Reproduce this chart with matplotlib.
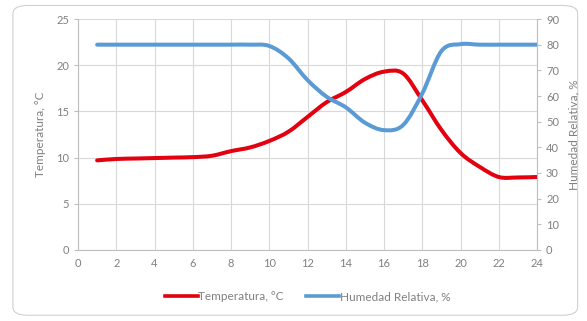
import numpy as np
import matplotlib.pyplot as plt
from matplotlib.path import Path
from matplotlib.patches import PathPatch, FancyBboxPatch
from matplotlib.lines import Line2D

hora = [1, 2, 3, 4, 5, 6, 7, 8, 9, 10, 11, 12, 13, 14, 15, 16, 17, 18, 19, 20, 21, 22, 23, 24]
temperatura = [9.7, 9.85, 9.9, 9.95, 10.0, 10.05, 10.2, 10.7, 11.1, 11.8, 12.8, 14.4,
               16.0, 17.1, 18.5, 19.3, 19.1, 16.2, 13.0, 10.5, 9.0, 7.9, 7.85, 7.9]
humedad = [80, 80, 80, 80, 80, 80, 80, 80, 80, 79.5, 74.7, 66.2,
           59.7, 55.6, 49.6, 46.7, 48.7, 61, 77.5, 80.2, 80, 80, 80, 80]

etiqueta_t = "Temperatura, °C"
etiqueta_h = "Humedad Relativa, %"

rojo = "#E3000F"
azul = "#5B9BD5"
gris = "#808080"
plt.rcParams['font.family'] = ['Lato', 'DejaVu Sans']


def suave(x, y):
    # smoothed line like Excel: cubic bezier through the points
    x = np.asarray(x, float)
    y = np.asarray(y, float)
    verts = [(x[0], y[0])]
    codes = [Path.MOVETO]
    n = len(x)
    for i in range(n - 1):
        x0, y0 = (x[i - 1], y[i - 1]) if i > 0 else (x[i], y[i])
        x3, y3 = (x[i + 2], y[i + 2]) if i + 2 < n else (x[i + 1], y[i + 1])
        c1 = (x[i] + (x[i + 1] - x0) / 6, y[i] + (y[i + 1] - y0) / 6)
        c2 = (x[i + 1] - (x3 - x[i]) / 6, y[i + 1] - (y3 - y[i]) / 6)
        verts += [c1, c2, (x[i + 1], y[i + 1])]
        codes += [Path.CURVE4] * 3
    return Path(verts, codes)


fig = plt.figure(figsize=(5.87, 3.21), dpi=100)
marco = FancyBboxPatch((0.022, 0.018), 0.962, 0.965, boxstyle="round,pad=0,rounding_size=0.025",
                       transform=fig.transFigure, fc="white", ec="#D0D0D0", lw=0.8, zorder=-10)
fig.patches.append(marco)
ax = fig.add_axes([0.1329, 0.2212, 0.782, 0.7196])
ax2 = ax.twinx()

ax.set_xlim(0, 24)
ax.set_ylim(0, 25)
ax2.set_ylim(0, 90)
ax.set_xticks(range(0, 25, 2))
ax.set_yticks(range(0, 26, 5))
ax2.set_yticks(range(0, 91, 10))
ax.grid(True, color="#D9D9D9", lw=0.8)
ax.set_axisbelow(True)

for a in (ax, ax2):
    a.set_facecolor("none")
    for s in a.spines.values():
        s.set_visible(False)
    a.tick_params(labelsize=8, labelcolor=gris, color="#BFBFBF", length=3, width=0.8)
ax.spines['left'].set_visible(True)
ax.spines['bottom'].set_visible(True)
ax2.spines['right'].set_visible(True)
for s in (ax.spines['left'], ax.spines['bottom'], ax2.spines['right']):
    s.set_color("#BFBFBF")
    s.set_linewidth(0.8)
ax.tick_params(axis='x', length=0, pad=6)

ax.add_patch(PathPatch(suave(hora, temperatura), fc="none", ec=rojo, lw=2.9, capstyle="round", zorder=3))
ax2.add_patch(PathPatch(suave(hora, humedad), fc="none", ec=azul, lw=2.9, capstyle="round", zorder=2))

ax.set_ylabel(etiqueta_t, fontsize=8.5, color=gris, labelpad=7)
ax2.set_ylabel(etiqueta_h, fontsize=8.5, color=gris, labelpad=7)

handles = [Line2D([], [], color=rojo, lw=2.6), Line2D([], [], color=azul, lw=2.6)]
fig.legend(handles, [etiqueta_t, etiqueta_h], loc="center", bbox_to_anchor=(0.524, 0.075), ncol=2,
           frameon=False, fontsize=8.5, labelcolor=gris, handlelength=2.8, handletextpad=0.05,
           columnspacing=1.9)

plt.savefig("out.png", dpi=100)
